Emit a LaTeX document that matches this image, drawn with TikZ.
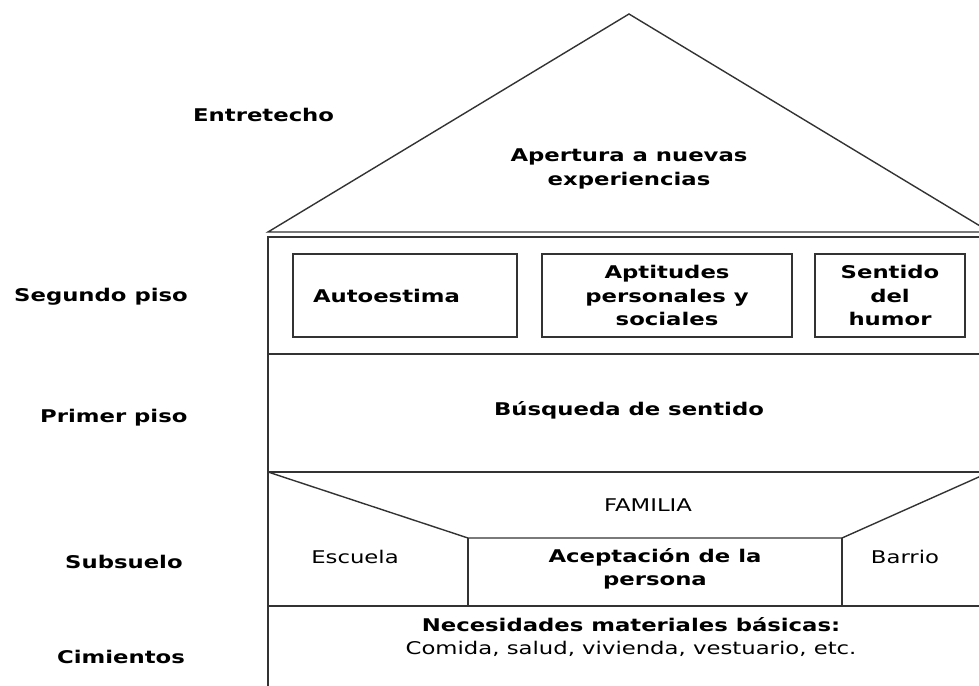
\documentclass[tikz,border=0pt]{standalone}
\usepackage{fontspec}
\setmainfont[FakeStretch=1.3]{DejaVu Sans}
\usetikzlibrary{positioning}

\begin{document}
\begin{tikzpicture}[x=1pt,y=-1pt,every node/.style={align=center,inner sep=0pt,font=\fontsize{17.5}{23.5}\selectfont},
  wall/.style={draw=black!80,line width=1.4pt},
  floorlbl/.style={anchor=west,font=\fontsize{17.5}{23.5}\selectfont\bfseries},
  roomtxt/.style={font=\fontsize{17.5}{23.5}\selectfont\bfseries},
  roombox/.style={draw=black!80,line width=1.3pt,minimum height=83pt}]

\useasboundingbox (0,0) rectangle (979,685);
\begin{scope}
\clip (0,0) rectangle (979,685);
% techo
\coordinate (apex) at (629,14);
\coordinate (eaveL) at (268,232);
\coordinate (eaveR) at (990,232);
\draw[wall] (eaveL) -- (apex) -- (eaveR) -- cycle;
% muros y pisos
\coordinate (wallTL) at (268,237);
\coordinate (wallTR) at (990,237);
\draw[wall] (268,700) -- (wallTL) -- (wallTR) -- (990,700);
\draw[wall] (268,354) -- (990,354);
\draw[wall] (268,472) -- (990,472);
\draw[wall] (268,606) -- (990,606);
% subsuelo
\coordinate (famL) at (468,538);
\coordinate (famR) at (842,538);
\draw[wall] (268,472) -- (famL) -- (famR) -- (990,472);
\draw[wall] (famL) -- (468,606);
\draw[wall] (famR) -- (842,606);
\end{scope}

% rotulos de la izquierda
\node[floorlbl] (entretecho) at (193,115) {Entretecho};
\node[floorlbl] (segundo) at (14,297) {Segundo piso};
\node[floorlbl] (primer) at (40,418) {Primer piso};
\node[floorlbl] (subsuelo) at (65,562) {Subsuelo};
\node[floorlbl] (cimientos) at (57,657) {Cimientos};

% entretecho
\node[roomtxt] (apertura) at (629,169) {Apertura a nuevas\\experiencias};
% segundo piso
\node[roombox,roomtxt,align=left,text width=184pt,inner xsep=20pt] (autoestima) at (405,295.5) {Autoestima};
\node[roombox,roomtxt,minimum width=250pt] (aptitudes) at (667,295.5) {Aptitudes\\personales y\\sociales};
\node[roombox,roomtxt,minimum width=150pt] (humor) at (890,295.5) {Sentido\\del\\humor};
% primer piso
\node[roomtxt] (busqueda) at (629,410) {Búsqueda de sentido};
% subsuelo
\node (familia) at (648,505) {FAMILIA};
\node (escuela) at (355,557) {Escuela};
\node[roomtxt] (aceptacion) at (655,569) {Aceptación de la\\persona};
\node (barrio) at (905,557) {Barrio};
% cimientos
\node (necesidades) at (631,637) {\textbf{Necesidades materiales básicas:}\\Comida, salud, vivienda, vestuario, etc.};

\end{tikzpicture}
\end{document}
